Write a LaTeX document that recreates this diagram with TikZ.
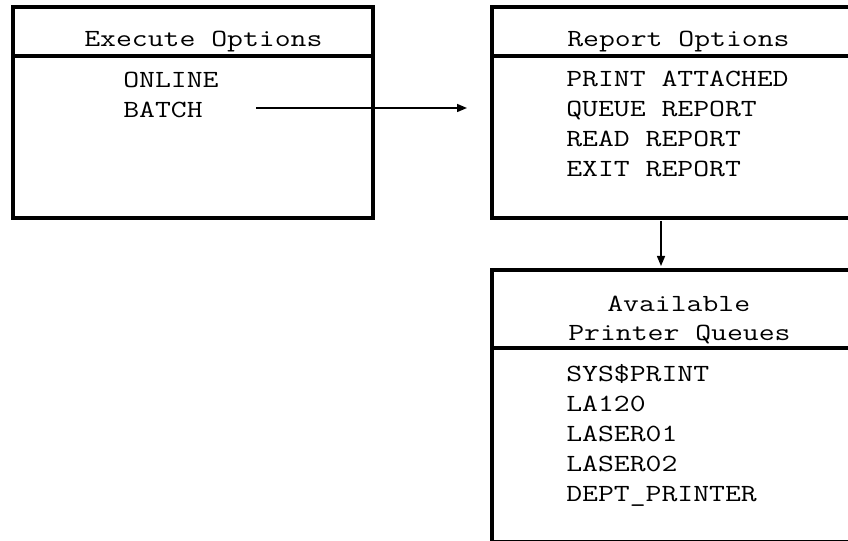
\documentclass[tikz,border=0pt]{standalone}
\usepackage{fontspec}
\usetikzlibrary{arrows.meta}
% typewriter text stretched to the wide, short shape of a courier face
\newcommand\wtt[1]{\scalebox{1.25}[1]{#1}}
\begin{document}
\begin{tikzpicture}[x=0.75pt,y=-0.75pt,
  frame/.style={draw=black,line width=2.4pt},
  label/.style={anchor=base west,inner sep=0pt,font=\ttfamily\fontsize{18.5}{22}\selectfont},
  link/.style={draw=black,line width=1.1pt,-{Triangle[length=7.5pt,width=6pt]}}]
\useasboundingbox (0,0) rectangle (848,541);
\begin{scope}
\clip (0,0) rectangle (848,541);
% Execute Options box
\draw[frame] (13,7) rectangle (373,218);
\draw[frame] (13,56) -- (373,56);
% Report Options box (runs off the right edge)
\draw[frame] (880,7) -- (492,7) -- (492,218) -- (880,218);
\draw[frame] (492,56) -- (880,56);
% Available Printer Queues box
\draw[frame] (880,270) -- (492,270) -- (492,542) -- (880,542);
\draw[frame] (492,348) -- (880,348);
\end{scope}
% texts
\node[label] (exec) at (84,47) {\wtt{Execute Options}};
\node[label] (online) at (123,88) {\wtt{ONLINE}};
\node[label] (batch) at (123,118) {\wtt{BATCH}};
\node[label] (rep) at (567,47) {\wtt{Report Options}};
\node[label] (print) at (566,87) {\wtt{PRINT ATTACHED}};
\node[label] (queue) at (566,117) {\wtt{QUEUE REPORT}};
\node[label] (read) at (566,147) {\wtt{READ REPORT}};
\node[label] (exitr) at (566,177) {\wtt{EXIT REPORT}};
\node[label] (avail) at (607,311) {\wtt{Available}};
\node[label] (pq) at (568,340) {\wtt{Printer Queues}};
\node[label] (sys) at (566,381) {\wtt{SYS\$PRINT}};
\node[label] (la) at (566,411) {\wtt{LA120}};
\node[label] (l1) at (566,441) {\wtt{LASER01}};
\node[label] (l2) at (566,471) {\wtt{LASER02}};
\node[label] (dept) at (566,501) {\wtt{DEPT\_PRINTER}};
% connectors
\coordinate (batchout) at (256,108);
\coordinate (repin) at (467,108);
\coordinate (repout) at (661,221);
\coordinate (queuesin) at (661,266);
\draw[link] (batchout) -- (repin);
\draw[link] (repout) -- (queuesin);
\end{tikzpicture}
\end{document}
